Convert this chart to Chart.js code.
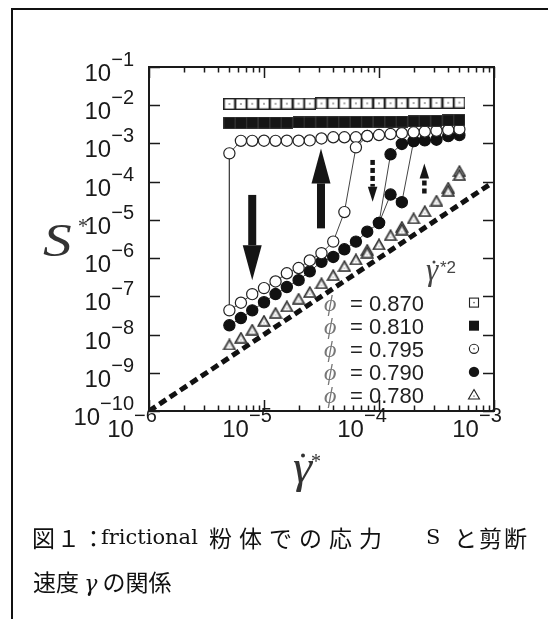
<!DOCTYPE html>
<html>
<head>
<meta charset="utf-8">
<script src="https://cdn.jsdelivr.net/npm/chart.js@4.4.1/dist/chart.umd.min.js"></script>
<style>
  html, body { margin: 0; padding: 0; background: #fff; }
  body { width: 548px; height: 619px; position: relative; overflow: hidden; }
  #frame { position: absolute; left: 11px; top: 8px; width: 600px; height: 700px;
           border-left: 2px solid #111; border-top: 2px solid #111; }
  #wrap { position: absolute; left: 0; top: 0; width: 548px; height: 619px; }
  .cap { position: absolute; color: #111; line-height: 30px; white-space: nowrap;
         font-family: "Noto Sans CJK JP", serif; font-size: 23px; }
  .lat { font-family: "DejaVu Serif", "Liberation Serif", serif; font-size: 21px; }
  .gam { font-family: "DejaVu Serif", "Liberation Serif", serif; font-size: 22px; font-style: italic; }
</style>
</head>
<body>
<div id="frame"></div>
<div id="wrap"><canvas id="c"></canvas></div>
<div class="cap" style="top:522px;left:32px;letter-spacing:2px">図１：</div>
<div class="cap lat" style="top:522px;left:101px">frictional</div>
<div class="cap" style="top:522px;left:209px;letter-spacing:7px">粉体での応力</div>
<div class="cap lat" style="top:522px;left:426px">S</div>
<div class="cap" style="top:522px;left:454px;letter-spacing:2px">と剪断</div>
<div class="cap" style="top:566px;left:33px">速度 <span class="gam">γ</span> の関係</div>

<script>
// Shear rates (γ̇*) at which the stress was measured
const shearRate = [5.0e-6, 6.3e-6, 7.9e-6, 1.0e-5, 1.26e-5, 1.58e-5, 2.0e-5, 2.5e-5, 3.16e-5, 4.0e-5,
                   5.0e-5, 6.3e-5, 7.9e-5, 1.0e-4, 1.26e-4, 1.58e-4, 2.0e-4, 2.5e-4, 3.16e-4, 4.0e-4, 5.0e-4];

// φ = 0.870
const stress870 = [1.08e-2, 1.08e-2, 1.09e-2, 1.09e-2, 1.09e-2, 1.10e-2, 1.10e-2, 1.10e-2, 1.11e-2, 1.11e-2,
                   1.12e-2, 1.12e-2, 1.12e-2, 1.12e-2, 1.13e-2, 1.13e-2, 1.14e-2, 1.14e-2, 1.15e-2, 1.16e-2, 1.17e-2];
// φ = 0.810
const stress810 = [3.45e-3, 3.45e-3, 3.5e-3, 3.5e-3, 3.5e-3, 3.5e-3, 3.55e-3, 3.55e-3, 3.6e-3, 3.6e-3,
                   3.6e-3, 3.65e-3, 3.65e-3, 3.7e-3, 3.7e-3, 3.75e-3, 3.8e-3, 3.85e-3, 3.9e-3, 4.0e-3, 4.1e-3];
// φ = 0.795, flowing (upper) branch, all rates
const stress795Up = [5.5e-4, 1.17e-3, 1.17e-3, 1.18e-3, 1.17e-3, 1.18e-3, 1.18e-3, 1.2e-3, 1.35e-3, 1.45e-3,
                     1.45e-3, 1.45e-3, 1.56e-3, 1.66e-3, 1.76e-3, 1.85e-3, 1.95e-3, 2.05e-3, 2.15e-3, 2.25e-3, 2.35e-3];
// φ = 0.795, lower branch, first 12 rates
const stress795Low = [4.3e-8, 6.8e-8, 1.14e-7, 1.64e-7, 2.45e-7, 4.0e-7, 5.5e-7, 8.7e-7, 1.35e-6, 2.7e-6, 1.6e-5, 7.9e-4];
// φ = 0.790, lower branch, first 14 rates
const stress790Low = [1.75e-8, 2.7e-8, 4.3e-8, 7.0e-8, 1.15e-7, 1.75e-7, 2.65e-7, 4.5e-7, 8.0e-7, 1.07e-6,
                      1.7e-6, 2.7e-6, 4.9e-6, 8.3e-6];
// φ = 0.790, upper branch, last 7 rates
const stress790Up = [5.2e-4, 9.7e-4, 1.15e-3, 1.2e-3, 1.25e-3, 1.55e-3, 1.65e-3];
// φ = 0.790, second run through the jump (rates 14th..17th)
const stress790Jump = [8.3e-6, 4.6e-5, 2.9e-5, 1.15e-3];
// φ = 0.780
const stress780 = [5.5e-9, 8.3e-9, 1.35e-8, 2.3e-8, 3.7e-8, 5.5e-8, 8.7e-8, 1.3e-7, 2.2e-7, 3.6e-7,
                   6.2e-7, 9.3e-7, 1.4e-6, 2.3e-6, 4.0e-6, 5.6e-6, 1.1e-5, 1.7e-5, 3.2e-5, 5.8e-5, 1.5e-4];
// φ = 0.780, repeated run where it separates
const rate780b = [7.9e-5, 1.58e-4, 4.0e-4, 5.0e-4];
const stress780b = [1.65e-6, 6.6e-6, 7.0e-5, 1.9e-4];
// reference slope  S* ∝ γ̇*²
const guideRate = [1e-6, 9.2e-4];
const guideStress = [1e-10, 8.5e-5];

// axes
const xTickExp = [-6, -5, -4, -3];
const yTickExp = [-1, -2, -3, -4, -5, -6, -7, -8, -9, -10];
const phiLabels = ['0.870', '0.810', '0.795', '0.790', '0.780'];

// hysteresis arrows: rate, start stress, end stress, dashed?
const arrowRate  = [7.9e-6, 3.13e-5, 8.8e-5, 2.48e-4];
const arrowFrom  = [4.5e-5, 6.0e-6, 3.7e-4, 4.9e-5];
const arrowTo    = [2.65e-7, 7.4e-4, 3.0e-5, 3.0e-4];
const arrowDash  = [false, false, true, true];

function pts(xs, ys) { return ys.map((y, i) => ({ x: xs[i], y: y })); }

function markCanvas(w, h, draw) {
  const c = document.createElement('canvas');
  c.width = w; c.height = h;
  draw(c.getContext('2d'));
  return c;
}
const openSquare = markCanvas(12, 12, g => {
  g.fillStyle = '#fff'; g.fillRect(0, 0, 12, 12);
  g.strokeStyle = '#222'; g.lineWidth = 1.4; g.strokeRect(0.7, 0.7, 10.6, 10.6);
  g.fillStyle = '#555'; g.fillRect(5.3, 5.3, 1.4, 1.4);
});
const filledSquare = markCanvas(12, 12, g => {
  g.fillStyle = '#151515'; g.fillRect(0, 0, 12, 12);
  g.strokeStyle = '#444'; g.lineWidth = 0.6; g.strokeRect(0.3, 0.3, 11.4, 11.4);
});
function triPath(g, cx, top, half, h) {
  g.beginPath(); g.moveTo(cx, top); g.lineTo(cx + half, top + h); g.lineTo(cx - half, top + h); g.closePath();
}
const triangleMark = markCanvas(14, 12, g => {
  triPath(g, 7, 0.9, 6, 10.3);
  g.fillStyle = '#9a9a9a'; g.fill();
  g.strokeStyle = '#2a2a2a'; g.lineWidth = 1.3; g.lineJoin = 'miter'; g.stroke();
  triPath(g, 7, 4.3, 3.2, 5.6);
  g.fillStyle = '#fff'; g.fill();
  g.fillStyle = '#777'; g.fillRect(6.5, 7.6, 1, 1);
});

// upper 0.795 branch walked from high to low rate, then the lower branch back up
const path795 = pts(shearRate, stress795Up).reverse()
  .concat(pts(shearRate, stress795Low))
  .concat([{ x: shearRate[12], y: stress795Up[12] }]);
const path790 = pts(shearRate, stress790Low).concat(pts(shearRate.slice(14), stress790Up));
const path790b = pts(shearRate.slice(13), stress790Jump);

const circleStyle = { pointStyle: 'circle', pointRadius: 5.6, pointBorderWidth: 1.2 };

const datasets = [
  { label: 'φ = 0.870', data: pts(shearRate, stress870), showLine: false, pointStyle: openSquare, pointRadius: 6 },
  { label: 'φ = 0.810', data: pts(shearRate, stress810), showLine: false, pointStyle: filledSquare, pointRadius: 6 },
  Object.assign({ label: 'φ = 0.795', data: path795, showLine: true, borderColor: '#444', borderWidth: 1,
    pointBackgroundColor: '#fff', pointBorderColor: '#222' }, circleStyle),
  Object.assign({ label: 'φ = 0.790', data: path790, showLine: true, borderColor: '#444', borderWidth: 1,
    pointBackgroundColor: '#111', pointBorderColor: '#111' }, circleStyle),
  Object.assign({ label: 'φ = 0.790 b', data: path790b, showLine: true, borderColor: '#444', borderWidth: 1,
    pointBackgroundColor: '#111', pointBorderColor: '#111' }, circleStyle),
  { label: 'φ = 0.780', data: pts(shearRate, stress780), showLine: false, pointStyle: triangleMark, pointRadius: 6 },
  { label: 'φ = 0.780 b', data: pts(rate780b, stress780b), showLine: false, pointStyle: triangleMark, pointRadius: 6 },
  { label: 'γ̇*²', data: pts(guideRate, guideStress), showLine: true, borderColor: '#111', borderWidth: 5,
    borderDash: [8, 4.5], borderCapStyle: 'butt', pointRadius: 0 }
];

function drawPow(ctx, exp, x, baseY, align) {
  const base = '10', sup = '\u2212' + Math.abs(exp);
  ctx.font = '24px "Liberation Sans", Arial, sans-serif';
  const wb = ctx.measureText(base).width;
  ctx.font = '20px "Liberation Sans", Arial, sans-serif';
  const ws = ctx.measureText(sup).width;
  const total = wb + ws;
  let left = align === 'right' ? x - total : x - total / 2;
  ctx.textAlign = 'left'; ctx.textBaseline = 'alphabetic';
  ctx.font = '24px "Liberation Sans", Arial, sans-serif';
  ctx.fillText(base, left, baseY);
  ctx.font = '20px "Liberation Sans", Arial, sans-serif';
  ctx.fillText(sup, left + wb, baseY - 15);
}

// italic serif letter, stretched a little in width like the plotting font
function wideItalic(ctx, txt, x, y, size, sx) {
  ctx.save();
  ctx.translate(x, y);
  ctx.scale(sx, 1);
  ctx.font = 'italic ' + size + 'px "Liberation Serif", "Times New Roman", serif';
  ctx.fillText(txt, 0, 0);
  ctx.restore();
}

const axesPlugin = {
  id: 'axesFrame',
  beforeDatasetsDraw(chart) {
    // hysteresis arrows, placed through the scales
    const ctx = chart.ctx, xs = chart.scales.x, ys = chart.scales.y;
    ctx.save();
    ctx.fillStyle = '#151515';
    arrowRate.forEach((r, i) => {
      const px = xs.getPixelForValue(r);
      const y0 = ys.getPixelForValue(arrowFrom[i]);
      const y1 = ys.getPixelForValue(arrowTo[i]);
      const dir = y1 > y0 ? 1 : -1;
      const dashed = arrowDash[i];
      const shaftW = dashed ? 4.5 : 8, headW = dashed ? 9.5 : 19, headL = dashed ? 15 : 35;
      const headStart = y1 - dir * headL;
      if (dashed) {
        let y = y0;
        while ((headStart - y) * dir > 0) {
          const yEnd = dir > 0 ? Math.min(y + 5, headStart) : Math.max(y - 5, headStart);
          ctx.fillRect(px - shaftW / 2, Math.min(y, yEnd), shaftW, Math.abs(yEnd - y));
          y = yEnd + dir * 3;
        }
      } else {
        ctx.fillRect(px - shaftW / 2, Math.min(y0, headStart), shaftW, Math.abs(headStart - y0));
      }
      ctx.beginPath();
      ctx.moveTo(px - headW / 2, headStart);
      ctx.lineTo(px + headW / 2, headStart);
      ctx.lineTo(px, y1);
      ctx.closePath();
      ctx.fill();
    });
    ctx.restore();
  },
  afterDatasetsDraw(chart) {
    const ctx = chart.ctx, a = chart.chartArea, xs = chart.scales.x, ys = chart.scales.y;
    ctx.save();
    ctx.strokeStyle = '#1a1a1a'; ctx.fillStyle = '#1a1a1a';
    // frame
    ctx.lineWidth = 2;
    ctx.strokeRect(a.left, a.top, a.right - a.left, a.bottom - a.top);
    // y ticks (inward, both sides)
    ctx.lineWidth = 1.5;
    ctx.beginPath();
    yTickExp.forEach(e => {
      const py = Math.round(ys.getPixelForValue(Math.pow(10, e))) + 0.5;
      ctx.moveTo(a.left, py); ctx.lineTo(a.left + 11, py);
      ctx.moveTo(a.right, py); ctx.lineTo(a.right - 11, py);
    });
    // x ticks, majors and minors
    xTickExp.forEach((e, k) => {
      for (let m = 1; m <= 9; m++) {
        if (m > 1 && k === xTickExp.length - 1) break;
        const v = m * Math.pow(10, e);
        const px = Math.round(xs.getPixelForValue(v)) + 0.5;
        const len = m === 1 ? 11 : 5.5;
        ctx.moveTo(px, a.bottom); ctx.lineTo(px, a.bottom - len);
        ctx.moveTo(px, a.top); ctx.lineTo(px, a.top + len);
      }
    });
    ctx.stroke();

    // tick labels
    ctx.fillStyle = '#1a1a1a';
    yTickExp.forEach(e => {
      const py = ys.getPixelForValue(Math.pow(10, e));
      drawPow(ctx, e, a.left - 15, py + 14, 'right');
    });
    xTickExp.forEach(e => {
      const px = xs.getPixelForValue(Math.pow(10, e));
      drawPow(ctx, e, px - 17, a.bottom + 26, 'center');
    });

    // axis titles
    ctx.fillStyle = '#333';
    ctx.textAlign = 'left'; ctx.textBaseline = 'alphabetic';
    wideItalic(ctx, 'S', a.left - 106, a.top + 189, 47, 1.22);
    ctx.font = '20px "Liberation Serif", serif';
    ctx.fillText('*', a.left - 71, a.top + 166);

    wideItalic(ctx, 'γ', a.left + 144, a.bottom + 71, 46, 1.05);
    ctx.beginPath(); ctx.arc(a.left + 154, a.bottom + 44.5, 2, 0, Math.PI * 2); ctx.fill();
    ctx.font = '20px "Liberation Serif", serif';
    ctx.fillText('*', a.left + 162, a.bottom + 57);

    // legend block inside the plot
    ctx.fillStyle = '#444';
    wideItalic(ctx, 'γ', a.left + 277, a.bottom - 131, 31, 1.0);
    ctx.beginPath(); ctx.arc(a.left + 285, a.bottom - 149, 1.5, 0, Math.PI * 2); ctx.fill();
    ctx.font = '17px "Liberation Sans", Arial, sans-serif';
    ctx.fillText('*2', a.left + 291, a.bottom - 138);

    const rowY = k => a.bottom - 16 - (phiLabels.length - 1 - k) * 23.1;
    const mx = a.right - 20;
    phiLabels.forEach((lab, k) => {
      const y = rowY(k);
      ctx.fillStyle = '#777';
      ctx.font = 'italic 24px "Liberation Serif", "Times New Roman", serif';
      ctx.fillText('\u03D5', a.left + 175, y + 8);
      ctx.fillStyle = '#222';
      ctx.font = '22px "Liberation Sans", Arial, sans-serif';
      ctx.fillText('= ' + lab, a.left + 201, y + 8);
      // key symbol
      ctx.lineWidth = 1.1; ctx.strokeStyle = '#222'; ctx.fillStyle = '#151515';
      if (k === 0) {
        ctx.fillStyle = '#fff'; ctx.fillRect(mx - 4.5, y - 4.5, 9, 9);
        ctx.strokeRect(mx - 4.5, y - 4.5, 9, 9);
        ctx.fillStyle = '#555'; ctx.fillRect(mx - 0.7, y - 0.7, 1.4, 1.4);
      } else if (k === 1) {
        ctx.fillRect(mx - 5, y - 5, 10, 10);
      } else if (k === 2) {
        ctx.beginPath(); ctx.arc(mx, y, 4.6, 0, Math.PI * 2); ctx.fillStyle = '#fff'; ctx.fill(); ctx.stroke();
        ctx.fillStyle = '#555'; ctx.fillRect(mx - 0.7, y - 0.7, 1.4, 1.4);
      } else if (k === 3) {
        ctx.beginPath(); ctx.arc(mx, y, 5.2, 0, Math.PI * 2); ctx.fill();
      } else {
        ctx.beginPath(); ctx.moveTo(mx, y - 5.5); ctx.lineTo(mx + 5.5, y + 4); ctx.lineTo(mx - 5.5, y + 4); ctx.closePath();
        ctx.fillStyle = '#fff'; ctx.fill(); ctx.stroke();
        ctx.fillStyle = '#555'; ctx.fillRect(mx - 0.6, y + 0.5, 1.2, 1.2);
      }
    });
    ctx.restore();
  }
};

new Chart(document.getElementById('c'), {
  type: 'scatter',
  data: { datasets: datasets },
  options: {
    responsive: true,
    maintainAspectRatio: false,
    animation: false,
    events: [],
    layout: { padding: { left: 149, top: 67, right: 54, bottom: 208 } },
    plugins: { legend: { display: false }, tooltip: { enabled: false } },
    scales: {
      x: { type: 'logarithmic', min: 1e-6, max: 1e-3, display: false },
      y: { type: 'logarithmic', min: 1e-10, max: 1e-1, display: false }
    }
  },
  plugins: [axesPlugin]
});
</script>
</body>
</html>
